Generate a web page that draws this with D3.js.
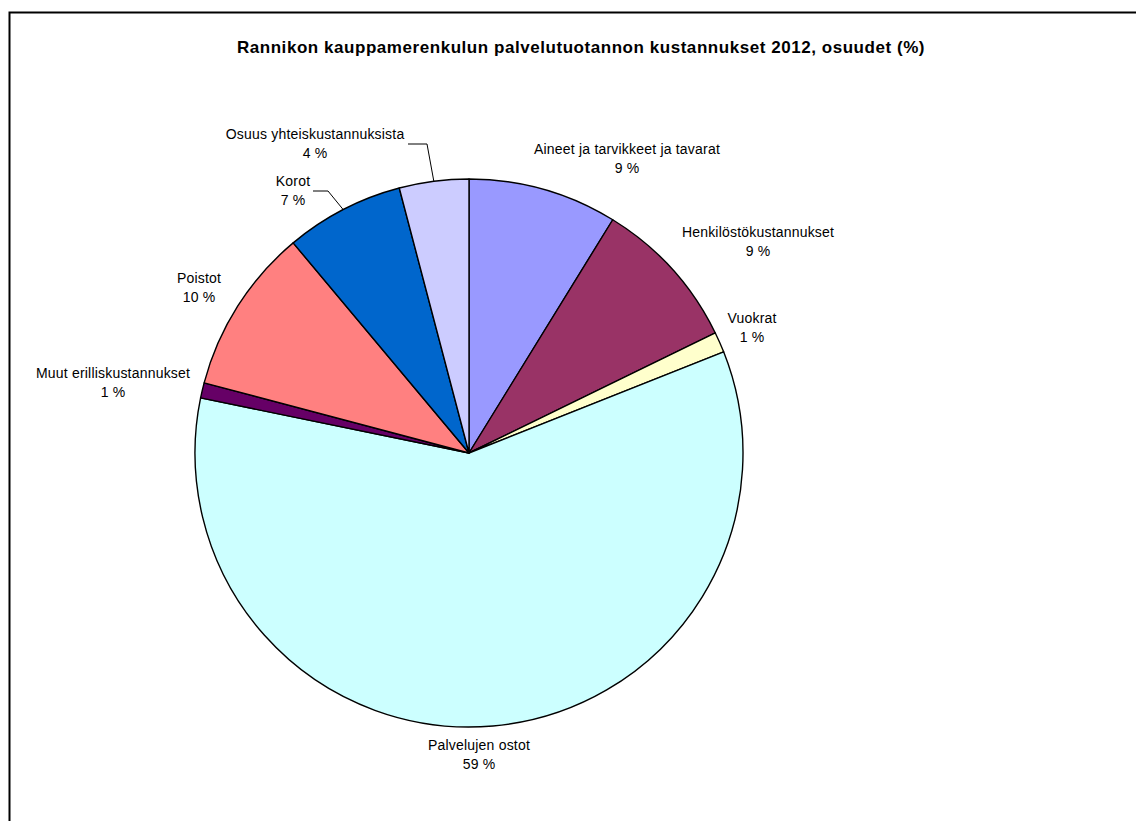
<!DOCTYPE html>
<html>
<head>
<meta charset="utf-8">
<script src="https://cdn.jsdelivr.net/npm/d3@7"></script>
<style>
  body { margin: 0; background: #fff; }
  text { font-family: "Liberation Sans", Arial, sans-serif; fill: #000; }
</style>
</head>
<body>
<div id="chart"></div>
<script>
var svgWidth = 1136;
var svgHeight = 821;

var title = "Rannikon kauppamerenkulun palvelutuotannon kustannukset 2012, osuudet (%)";

// clockwise from 12 o'clock
var categories = ["Aineet ja tarvikkeet ja tavarat", "Henkilöstökustannukset", "Vuokrat", "Palvelujen ostot",
    "Muut erilliskustannukset", "Poistot", "Korot", "Osuus yhteiskustannuksista"];
var values = [8.8, 9.0, 1.2, 59.3, 0.9, 9.8, 7.0, 4.1];
var percentLabels = ["9 %", "9 %", "1 %", "59 %", "1 %", "10 %", "7 %", "4 %"];
var colors = ["#9999FF", "#993366", "#FFFFCC", "#CCFFFF", "#660066", "#FF8080", "#0066CC", "#CCCCFF"];

var cx = 469, cy = 453, radius = 274;

// label centres (x) and first-line baselines (y), as laid out by the original chart
var labelLayout = {
    "Aineet ja tarvikkeet ja tavarat": [627, 154],
    "Henkilöstökustannukset": [758, 237],
    "Vuokrat": [752, 323],
    "Palvelujen ostot": [479, 750],
    "Muut erilliskustannukset": [113, 378],
    "Poistot": [199, 283],
    "Korot": [293, 186],
    "Osuus yhteiskustannuksista": [315, 139]
};
// leader lines: label end point and elbow
var leaders = {
    "Korot": [[313, 191], [328, 191]],
    "Osuus yhteiskustannuksista": [[408, 144], [427, 144]]
};

var svg = d3.select("#chart").append("svg").attr("width", svgWidth).attr("height", svgHeight);

svg.append("rect").attr("x", 9.5).attr("y", 12.5).attr("width", svgWidth).attr("height", svgHeight)
    .attr("fill", "none").attr("stroke", "#000").attr("stroke-width", 2);

svg.append("text").attr("x", 581).attr("y", 53).attr("text-anchor", "middle")
    .attr("font-size", "17px").attr("font-weight", "bold").attr("letter-spacing", "0.55px").text(title);

var pieData = categories.map(function(c, i) { return {name: c, value: values[i], pct: percentLabels[i], color: colors[i]}; });

var pie = d3.pie().sort(null).value(d => d.value);
var arc = d3.arc().innerRadius(0).outerRadius(radius);

var arcs = pie(pieData);

var pieGroup = svg.append("g").attr("transform", `translate(${cx},${cy})`);

pieGroup.selectAll("path").data(arcs).enter().append("path")
    .attr("d", arc).attr("fill", d => d.data.color)
    .attr("stroke", "#000").attr("stroke-width", 1.4).attr("stroke-linejoin", "round");

// leader lines to the arc edge at the slice's mid angle
arcs.forEach(function(d) {
    var pts = leaders[d.data.name];
    if (!pts) return;
    var mid = (d.startAngle + d.endAngle) / 2;
    var end = [cx + radius * Math.sin(mid), cy - radius * Math.cos(mid)];
    svg.append("polyline").attr("points", pts.concat([end]).map(p => p.join(",")).join(" "))
        .attr("fill", "none").attr("stroke", "#000").attr("stroke-width", 1);
});

var labels = svg.selectAll(".lbl").data(arcs).enter().append("text")
    .attr("class", "lbl").attr("text-anchor", "middle").attr("font-size", "14px").attr("letter-spacing", "0.2px")
    .attr("transform", d => `translate(${labelLayout[d.data.name][0]},${labelLayout[d.data.name][1]})`);

labels.append("tspan").attr("x", 0).attr("y", 0).text(d => d.data.name);
labels.append("tspan").attr("x", 0).attr("y", 19).text(d => d.data.pct);
</script>
</body>
</html>
